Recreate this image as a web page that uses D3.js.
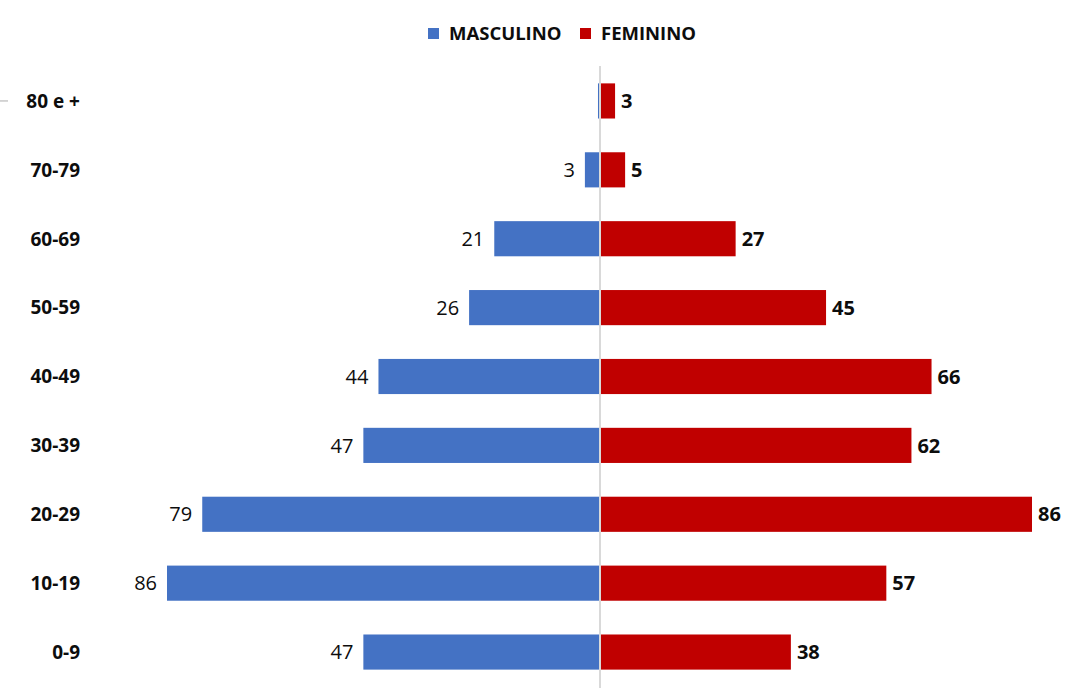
<!DOCTYPE html>
<html lang="pt">
<head>
<meta charset="utf-8">
<script src="https://d3js.org/d3.v7.min.js"></script>
<style>
  body { margin: 0; background: #fff; }
  text { font-family: "Open Sans", "Noto Sans", sans-serif; fill: #0d0d0d; }
</style>
</head>
<body>
<div id="chart"></div>
<script>
// age groups, top to bottom
var ageGroups = ["80 e +", "70-79", "60-69", "50-59", "40-49", "30-39", "20-29", "10-19", "0-9"];
var masculino = [0.4, 3, 21, 26, 44, 47, 79, 86, 47];
var feminino  = [3, 5, 27, 45, 66, 62, 86, 57, 38];
var seriesNames = ["MASCULINO", "FEMININO"];
var seriesColors = ["#4472C4", "#C00000"];

var W = 1083, H = 688, mid = 600;

var svg = d3.select("#chart").append("svg")
    .attr("width", W)
    .attr("height", H);

var y = d3.scaleBand()
    .domain(ageGroups)
    .range([66.5, 686.5])
    .paddingInner(0.49)
    .paddingOuter(0.245);

var maxV = d3.max(masculino.concat(feminino));
var xm = d3.scaleLinear().domain([0, maxV]).range([mid, 167]);
var xf = d3.scaleLinear().domain([0, maxV]).range([mid, 1032]);

var rows = ageGroups.map(function(g, i) {
  return {group: g, m: masculino[i], f: feminino[i]};
});

// little leftover tick on the left edge
svg.append("line")
    .attr("x1", 0).attr("x2", 8)
    .attr("y1", y(ageGroups[0]) + y.bandwidth() / 2)
    .attr("y2", y(ageGroups[0]) + y.bandwidth() / 2)
    .attr("stroke", "#c8c8c8").attr("stroke-width", 1.5);

// male bars
svg.selectAll(".bm").data(rows).enter().append("rect")
    .attr("class", "bm")
    .attr("x", function(d) { return xm(d.m); })
    .attr("y", function(d) { return y(d.group); })
    .attr("width", function(d) { return mid - xm(d.m); })
    .attr("height", y.bandwidth())
    .attr("fill", seriesColors[0]);

// female bars
svg.selectAll(".bf").data(rows).enter().append("rect")
    .attr("class", "bf")
    .attr("x", mid)
    .attr("y", function(d) { return y(d.group); })
    .attr("width", function(d) { return xf(d.f) - mid; })
    .attr("height", y.bandwidth())
    .attr("fill", seriesColors[1]);

// center axis line
svg.append("line")
    .attr("x1", mid).attr("x2", mid)
    .attr("y1", 66).attr("y2", H)
    .attr("stroke", "#d9d9d9").attr("stroke-width", 2);

// value labels
svg.selectAll(".lm").data(rows.filter(function(d) { return d.m >= 1; })).enter().append("text")
    .attr("class", "lm")
    .attr("x", function(d) { return xm(d.m) - 10; })
    .attr("y", function(d) { return y(d.group) + y.bandwidth() / 2; })
    .attr("dy", "0.36em")
    .attr("text-anchor", "end")
    .style("font-size", "20px")
    .text(function(d) { return d.m; });

svg.selectAll(".lf").data(rows).enter().append("text")
    .attr("class", "lf")
    .attr("x", function(d) { return xf(d.f) + 6; })
    .attr("y", function(d) { return y(d.group) + y.bandwidth() / 2; })
    .attr("dy", "0.36em")
    .style("font-size", "20px")
    .style("font-weight", "bold")
    .text(function(d) { return d.f; });

// category labels
svg.selectAll(".cat").data(ageGroups).enter().append("text")
    .attr("class", "cat")
    .attr("x", 80)
    .attr("y", function(d) { return y(d) + y.bandwidth() / 2; })
    .attr("dy", "0.36em")
    .attr("text-anchor", "end")
    .style("font-size", "19px")
    .style("font-weight", "bold")
    .text(function(d) { return d; });

// legend
var legX = [428, 580];
var leg = svg.selectAll(".leg").data(seriesNames).enter().append("g")
    .attr("class", "leg")
    .attr("transform", function(d, i) { return "translate(" + legX[i] + ",28)"; });
leg.append("rect")
    .attr("width", 11).attr("height", 11)
    .attr("fill", function(d, i) { return seriesColors[i]; });
leg.append("text")
    .attr("x", 21).attr("y", 5.5)
    .attr("dy", "0.36em")
    .style("font-size", "18.5px")
    .style("font-weight", "bold")
    .text(function(d) { return d; });
</script>
</body>
</html>
